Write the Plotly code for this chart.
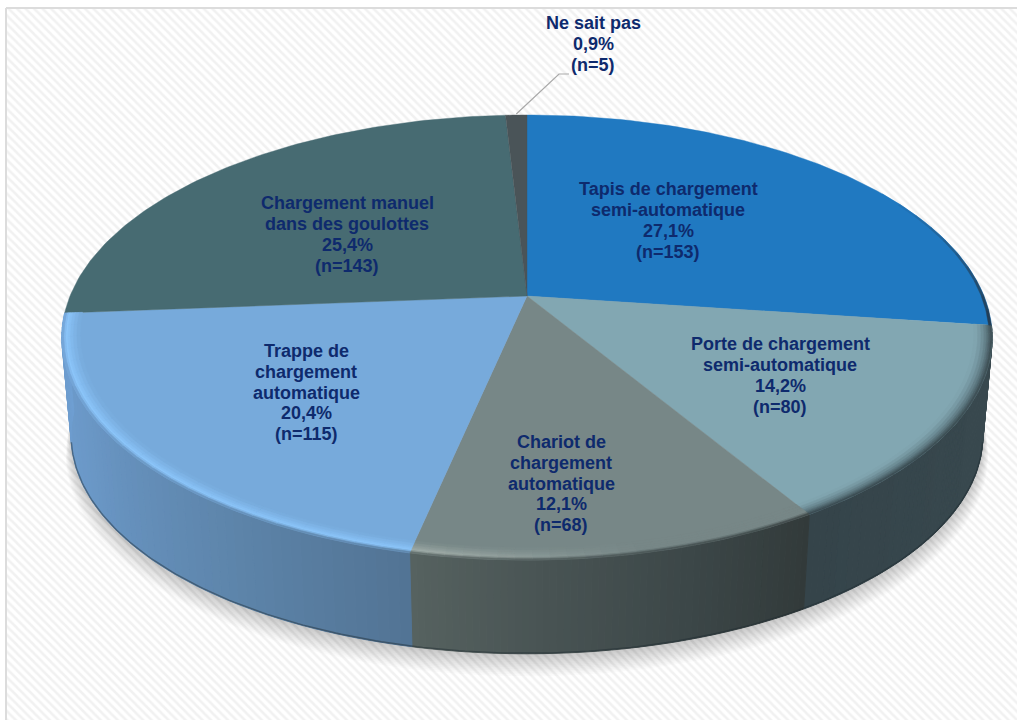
import math
import plotly.graph_objects as go

# Survey results
categories = [
    "Tapis de chargement<br>semi-automatique",
    "Porte de chargement<br>semi-automatique",
    "Chariot de<br>chargement<br>automatique",
    "Trappe de<br>chargement<br>automatique",
    "Chargement manuel<br>dans des goulottes",
    "Ne sait pas",
]
counts = [153, 80, 68, 115, 143, 5]
percents = ["27,1%", "14,2%", "12,1%", "20,4%", "25,4%", "0,9%"]

# Face colours, one per slice
top_colors = ["#2079c1", "#82a7b2", "#778787", "#77aadb", "#476b72", "#4a5458"]
# Wall colour stops (start and end of each slice's arc, plus midpoints)
wall_stops = {
    1: ["#3a4a50", "#37474d", "#35444a"],
    2: ["#323a3a", "#3c4748", "#485353", "#566260"],
    3: ["#527494", "#5f87ae", "#6a97c6", "#6f9fd2"],
}
highlight = {1: None, 2: "#a2aeaa", 3: "#8dc7fc"}
label_xy = [(668, 220.5), (780, 375.5), (561, 483.5), (306, 392.5), (347, 234.5), (593, 44)]
LINE_GAP = 20.8

# Projection of the disc: a circle seen in perspective
CX, CY = 527, 296
A, B, K = 457, 214.8, 0.1865
BASE_SCALE, BASE_DROP = 0.98, 99


def project(frac, r=1.0, scale=1.0, drop=0.0):
    """Map a pie fraction (clockwise from 12 o'clock) and radius to the canvas."""
    t = 2 * math.pi * frac
    X, Y = r * math.sin(t), r * math.cos(t)
    w = 1 + K * Y
    return CX + scale * A * X / w, CY + drop - scale * B * Y / w


def rgb(c):
    return [int(c[i:i + 2], 16) for i in (1, 3, 5)]


def mix(a, b, t):
    t = max(0.0, min(1.0, t))
    pa, pb = rgb(a), rgb(b)
    return "#%02x%02x%02x" % tuple(round(p + (q - p) * t) for p, q in zip(pa, pb))


def ramp(stops, t):
    pos = t * (len(stops) - 1)
    i = min(int(pos), len(stops) - 2)
    return mix(stops[i], stops[i + 1], pos - i)


fig = go.Figure()


def poly(points, color, opacity=None, seam=0.7):
    xs = [p[0] for p in points] + [points[0][0]]
    ys = [p[1] for p in points] + [points[0][1]]
    fig.add_trace(go.Scatter(
        x=xs, y=ys, mode="lines", fill="toself", fillcolor=color,
        line=dict(color=color, width=seam), opacity=opacity,
        hoverinfo="skip", showlegend=False,
    ))


# Hatched backdrop with its frame
fig.add_trace(go.Scatter(
    x=[6, 1030, 1030, 6, 6], y=[8, 8, 730, 730, 8], mode="lines", fill="toself",
    fillpattern=dict(shape="\\", bgcolor="#ffffff", fgcolor="#e4e4e4", size=6, solidity=0.42),
    line=dict(color="#dcdcdc", width=2), hoverinfo="skip", showlegend=False,
))

total = sum(counts)
edges = [0.0]
for c in counts:
    edges.append(edges[-1] + c / total)

# Soft shadow under the disc
for i in range(1, 14):
    ring = [project(j / 180, 1, BASE_SCALE + i * 0.0009, BASE_DROP + i * 1.5) for j in range(180)]
    poly(ring, "#000000", opacity=0.015, seam=0)

# Outer walls of the three slices that face the viewer
WALL_STEPS = 60
for idx, stops in wall_stops.items():
    a0, a1 = edges[idx], edges[idx + 1]
    for s in range(WALL_STEPS):
        f0 = a0 + (a1 - a0) * s / WALL_STEPS
        f1 = a0 + (a1 - a0) * (s + 1) / WALL_STEPS
        poly([project(f0), project(f1),
              project(f1, 1, BASE_SCALE, BASE_DROP), project(f0, 1, BASE_SCALE, BASE_DROP)],
             ramp(stops, (s + 0.5) / WALL_STEPS), seam=1.0)

# Dark line along the foot of the wall, front arc only
foot = [project(0.285 + j / 240 * 0.43, 1, BASE_SCALE, BASE_DROP - 0.6) for j in range(241)]
fig.add_trace(go.Scatter(x=[p[0] for p in foot], y=[p[1] for p in foot], mode="lines",
                         line=dict(color="#1e2a30", width=1.4), opacity=0.45,
                         hoverinfo="skip", showlegend=False))

# Flat top faces
for idx, color in enumerate(top_colors):
    a0, a1 = edges[idx], edges[idx + 1]
    n = max(2, int((a1 - a0) * 360))
    pts = [(CX, CY)] + [project(a0 + (a1 - a0) * j / n) for j in range(n + 1)]
    poly(pts, color, seam=0.4)

# Bevelled rim between the top face and the wall
BANDS = [0.962, 0.970, 0.977, 0.983, 0.988, 0.992, 0.996, 1.0]
BEVEL_STEPS = 24
for idx, stops in wall_stops.items():
    a0, a1 = edges[idx], edges[idx + 1]
    top = top_colors[idx]
    for s in range(BEVEL_STEPS):
        t = (s + 0.5) / BEVEL_STEPS
        f0 = a0 + (a1 - a0) * s / BEVEL_STEPS
        f1 = a0 + (a1 - a0) * (s + 1) / BEVEL_STEPS
        wall = ramp(stops, t)
        hl = highlight[idx]
        if idx == 2:
            # the light catch on the grey slice fades out toward the right
            hl = mix(top, hl, (t - 0.45) / 0.5)
        elif hl is None:
            hl = mix(top, wall, 0.15)
        for b in range(len(BANDS) - 1):
            r0, r1 = BANDS[b], BANDS[b + 1]
            u = (b + 0.5) / (len(BANDS) - 1)
            if idx == 1:
                col = mix(top, wall, u ** 1.3)
            elif u < 0.7:
                col = mix(top, hl, u / 0.7)
            else:
                col = mix(hl, wall, (u - 0.7) / 0.3)
            poly([project(f0, r0), project(f1, r0), project(f1, r1), project(f0, r1)], col, seam=0.6)

# Thin shaded edge on the lower part of the blue slice
for s in range(10):
    f0 = edges[0] + (edges[1] - edges[0]) * (0.6 + 0.04 * s)
    f1 = edges[0] + (edges[1] - edges[0]) * (0.6 + 0.04 * (s + 1))
    poly([project(f0, 0.994), project(f1, 0.994), project(f1, 1.0), project(f0, 1.0)],
         mix(top_colors[0], "#23384a", 0.1 * s), seam=0.4)

# Leader line for the smallest slice
leader_start = project((edges[5] + edges[6]) / 2, 1.0)
fig.add_trace(go.Scatter(
    x=[leader_start[0], 559, 569], y=[leader_start[1] - 1, 74, 74], mode="lines",
    line=dict(color="#a9a9a9", width=1.2), hoverinfo="skip", showlegend=False,
))

# Data labels, set line by line to hold the spacing tight
for cat, pct, n, (lx, ly) in zip(categories, percents, counts, label_xy):
    rows = cat.split("<br>") + [pct, f"(n={n})"]
    for i, row in enumerate(rows):
        fig.add_annotation(
            x=lx, y=ly + (i - (len(rows) - 1) / 2) * LINE_GAP, xref="x", yref="y",
            showarrow=False, align="center", text=f"<b>{row}</b>",
            font=dict(family="Liberation Sans, Arial, sans-serif", size=18, color="#0e2a6d"),
        )

fig.update_layout(
    width=1017, height=720, margin=dict(l=0, r=0, t=0, b=0),
    paper_bgcolor="#ffffff", plot_bgcolor="#ffffff", showlegend=False,
    xaxis=dict(range=[0, 1017], visible=False, fixedrange=True),
    yaxis=dict(range=[720, 0], visible=False, fixedrange=True),
)
fig.write_html("out.html", config={"displayModeBar": False})
